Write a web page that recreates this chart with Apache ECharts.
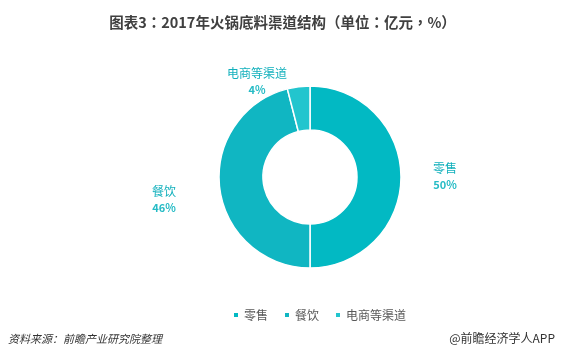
<!DOCTYPE html>
<html><head><meta charset="utf-8">
<script src="https://cdn.jsdelivr.net/npm/echarts@6/dist/echarts.min.js"></script>
<style>html,body{margin:0;padding:0;background:#fff}#c{width:565px;height:361px}</style>
</head><body><div id="c"></div>
<script>
var titleText = '图表3：2017年火锅底料渠道结构（单位：亿元，%）';
var categories = ['零售', '餐饮', '电商等渠道'];
var shares = [50, 46, 4];
var sourceText = '资料来源：前瞻产业研究院整理';
var creditText = '@前瞻经济学人APP';

var colors = ['#02B9C3', '#10B6C2', '#22C5CE'];
var labelPos = [[445, 176], [164, 199], [257, 81]];

var chart = echarts.init(document.getElementById('c'));
chart.setOption({
  animation: false,
  color: colors,
  title: {
    text: titleText, left: 'center', top: 10,
    textStyle: {fontFamily: 'Noto Sans CJK TC', fontSize: 14.5, fontWeight: 'bold', color: '#404040'}
  },
  legend: {
    top: 304, left: 227, itemWidth: 6, itemHeight: 6, itemGap: 15,
    icon: 'rect',
    textStyle: {fontFamily: 'Noto Sans CJK SC', fontSize: 12, color: '#595959'},
    data: categories
  },
  graphic: [
    {type: 'text', left: 8, top: 333, style: {text: sourceText, font: 'italic 11px "Noto Sans CJK SC"', fill: '#333'}},
    {type: 'text', right: 10, top: 332, style: {text: creditText, font: '12px "Noto Sans CJK SC"', fill: '#333'}}
  ],
  series: [{
    type: 'pie',
    center: [310, 177],
    radius: [47, 91],
    startAngle: 90,
    clockwise: true,
    itemStyle: {borderColor: '#fff', borderWidth: 1.5},
    label: {
      show: true, position: 'outside',
      formatter: '{n|{b}}\n{p|{d}%}',
      rich: {
        n: {fontFamily: 'Noto Sans CJK SC', fontSize: 12, color: '#12B0BC', lineHeight: 18, align: 'center'},
        p: {fontFamily: 'Noto Sans CJK SC', fontSize: 11, fontWeight: 'bold', color: '#25BBC5', lineHeight: 16, align: 'center'}
      }
    },
    labelLine: {show: false},
    labelLayout: function (p) {
      var q = labelPos[p.dataIndex];
      return {x: q[0], y: q[1], align: 'center', verticalAlign: 'middle'};
    },
    emphasis: {disabled: true},
    data: categories.map(function (c, i) { return {name: c, value: shares[i]}; })
  }]
});
</script></body></html>
